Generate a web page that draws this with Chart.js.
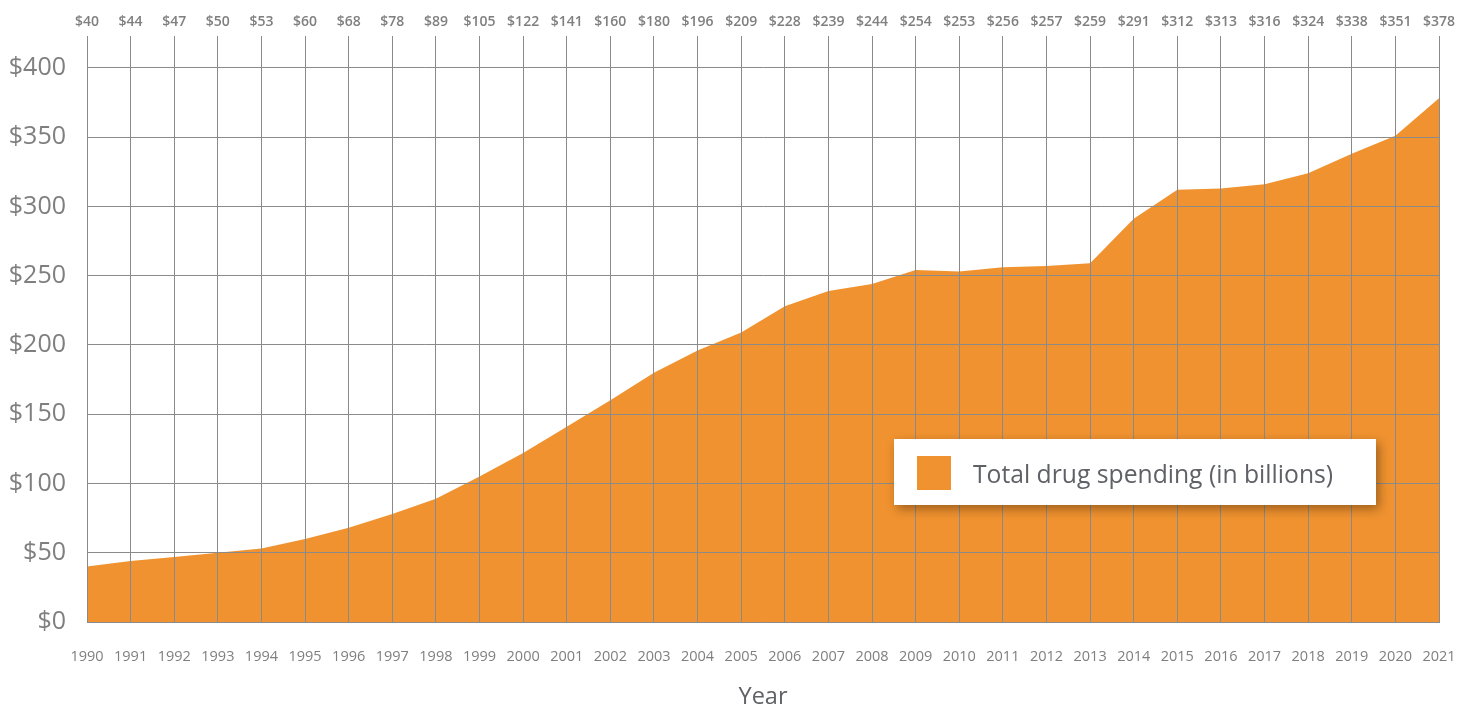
<!DOCTYPE html>
<html>
<head>
<meta charset="utf-8">
<script src="https://cdn.jsdelivr.net/npm/chart.js@4"></script>
<style>
  body { margin: 0; background: #fff; }
  #wrap { position: relative; width: 1473px; height: 709px; }
  #legend {
    position: absolute; left: 894px; top: 439px; width: 482px; height: 66px;
    background: #fff; box-shadow: 3px 4px 10px rgba(0,0,0,0.35);
    font-family: "Open Sans", sans-serif; font-size: 24.7px; color: #5f6166;
  }
  #legend .box { position: absolute; left: 23px; top: 17px; width: 34px; height: 34px; background: #f0922f; }
  #legend .txt { position: absolute; left: 79px; top: 2px; line-height: 66px; }
</style>
</head>
<body>
<div id="wrap">
  <canvas id="myChart" width="1473" height="709"></canvas>
  <div id="legend"><div class="box"></div><div class="txt">Total drug spending (in billions)</div></div>
</div>
<script>
const years = ['1990','1991','1992','1993','1994','1995','1996','1997','1998','1999','2000','2001','2002','2003','2004','2005',
               '2006','2007','2008','2009','2010','2011','2012','2013','2014','2015','2016','2017','2018','2019','2020','2021'];
const spending = [40, 44, 47, 50, 53, 60, 68, 78, 89, 105, 122, 141, 160, 180, 196, 209,
                  228, 239, 244, 254, 253, 256, 257, 259, 291, 312, 313, 316, 324, 338, 351, 378];
const topLabels = spending.map(v => '$' + v);

const gridColor = '#8a8a8a';
const textColor = '#7f7f7f';

// keep label overhang from shrinking the plot area; layout padding sets the edges
function noSidePad(s) { s.paddingLeft = 0; s.paddingRight = 0; }

const ctx = document.getElementById('myChart').getContext('2d');
const myChart = new Chart(ctx, {
    type: 'line',
    data: {
        labels: years,
        datasets: [{
            label: 'Total drug spending (in billions)',
            data: spending,
            backgroundColor: '#f0922f',
            borderWidth: 0,
            pointRadius: 0,
            fill: 'origin',
            tension: 0
        }]
    },
    options: {
        responsive: false,
        animation: false,
        layout: { padding: { left: 0, right: 34, top: 0, bottom: 0 } },
        plugins: {
            legend: { display: false },
            tooltip: { enabled: false }
        },
        scales: {
            x: {
                type: 'category',
                offset: false,
                grid: { color: gridColor, lineWidth: 1, z: 1, drawTicks: false },
                border: { color: gridColor, z: 1 },
                ticks: {
                    color: textColor, padding: 26, maxRotation: 0, autoSkip: false,
                    font: { family: 'Open Sans', size: 14.5 }
                },
                title: {
                    display: true, text: 'Year', color: '#5f6166',
                    font: { family: 'Open Sans', size: 23.5 }, padding: { top: 4, bottom: -2 }
                },
                afterFit: s => { s.height = 87; noSidePad(s); }
            },
            xTop: {
                type: 'category',
                position: 'top',
                labels: topLabels,
                offset: false,
                grid: { display: false, drawTicks: false },
                border: { display: false },
                ticks: {
                    color: textColor, padding: 6, maxRotation: 0, autoSkip: false,
                    font: { family: 'Open Sans', size: 14, weight: '600' }
                },
                afterFit: s => { s.height = 34; noSidePad(s); }
            },
            y: {
                min: 0,
                max: 423,
                grid: { color: gridColor, lineWidth: 1, z: 1, drawTicks: false },
                border: { color: gridColor, z: 1 },
                afterBuildTicks: s => { s.ticks = s.ticks.filter(t => t.value <= 400 && t.value % 50 === 0); },
                ticks: {
                    stepSize: 50, color: textColor, padding: 21,
                    font: { family: 'Open Sans', size: 25 },
                    callback: v => '$' + v
                },
                afterFit: s => { s.width = 87; }
            }
        }
    }
});
</script>
</body>
</html>
